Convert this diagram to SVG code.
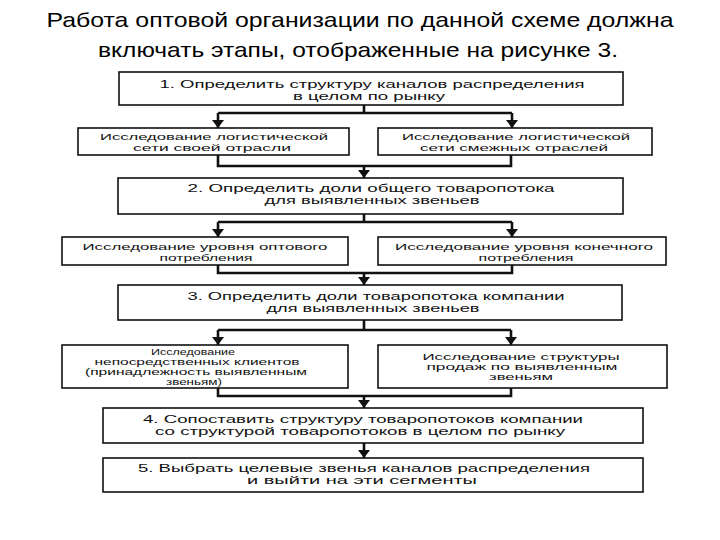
<svg xmlns="http://www.w3.org/2000/svg" width="720" height="540" viewBox="0 0 720 540">
<style>
.box{fill:#fff;stroke:#111;stroke-width:1.6}
.t{font-family:"Liberation Sans",Arial,sans-serif;font-size:10.2px;fill:#111;text-anchor:middle}
.s{font-size:9.2px}
.xs{font-size:8.6px}
.title{font-family:"Liberation Sans",Arial,sans-serif;font-size:21px;fill:#000;text-anchor:middle}
.c{fill:none;stroke:#111;stroke-width:2.6}
</style>
<defs>
<marker id="ah" viewBox="0 0 8 12" refX="8" refY="6" markerWidth="8" markerHeight="12" markerUnits="userSpaceOnUse" orient="auto">
<path d="M0,0 L8,6 L0,12 z" fill="#111"/>
</marker>
</defs>
<rect width="720" height="540" fill="#fff"/>
<g id="title">
<text class="title" x="360" y="27" textLength="627" lengthAdjust="spacingAndGlyphs">Работа оптовой организации по данной схеме должна</text>
<text class="title" x="358" y="57" textLength="520" lengthAdjust="spacingAndGlyphs">включать этапы, отображенные на рисунке 3.</text>
</g>
<g id="connectors">
<path class="c" d="M364,105 V113 M218,113 H512"/>
<path class="c" d="M218,113 V128" marker-end="url(#ah)"/>
<path class="c" d="M512,113 V128" marker-end="url(#ah)"/>
<path class="c" d="M218,155 V166 H511 V155"/>
<path class="c" d="M364,166 V178" marker-end="url(#ah)"/>
<path class="c" d="M364,214 V222 M218,222 H512"/>
<path class="c" d="M218,222 V237" marker-end="url(#ah)"/>
<path class="c" d="M512,222 V237" marker-end="url(#ah)"/>
<path class="c" d="M218,265 V273 H512 V265"/>
<path class="c" d="M364,273 V285" marker-end="url(#ah)"/>
<path class="c" d="M364,320 V330 M218,330 H511"/>
<path class="c" d="M218,330 V345" marker-end="url(#ah)"/>
<path class="c" d="M511,330 V345" marker-end="url(#ah)"/>
<path class="c" d="M218,388 V396 H511 V388"/>
<path class="c" d="M364,396 V408" marker-end="url(#ah)"/>
<path class="c" d="M364,443 V458" marker-end="url(#ah)"/>
</g>
<g id="n1">
<rect class="box" x="119" y="72" width="504" height="33"/>
<text class="t" x="372" y="88" textLength="425" lengthAdjust="spacingAndGlyphs">1. Определить структуру каналов распределения</text>
<text class="t" x="369" y="100" textLength="152" lengthAdjust="spacingAndGlyphs">в целом по рынку</text>
</g>
<g id="n1a">
<rect class="box" x="78" y="128" width="271" height="27"/>
<text class="t s" x="214" y="140" textLength="228" lengthAdjust="spacingAndGlyphs">Исследование логистической</text>
<text class="t s" x="212" y="151" textLength="158" lengthAdjust="spacingAndGlyphs">сети своей отрасли</text>
</g>
<g id="n1b">
<rect class="box" x="378" y="128" width="274" height="27"/>
<text class="t s" x="516" y="140" textLength="228" lengthAdjust="spacingAndGlyphs">Исследование логистической</text>
<text class="t s" x="514" y="151" textLength="188" lengthAdjust="spacingAndGlyphs">сети смежных отраслей</text>
</g>
<g id="n2">
<rect class="box" x="118" y="178" width="505" height="36"/>
<text class="t" x="371" y="192" textLength="367" lengthAdjust="spacingAndGlyphs">2. Определить доли общего товаропотока</text>
<text class="t" x="372" y="204" textLength="215" lengthAdjust="spacingAndGlyphs">для выявленных звеньев</text>
</g>
<g id="n2a">
<rect class="box" x="62" y="237" width="286" height="28"/>
<text class="t s" x="205" y="250" textLength="245" lengthAdjust="spacingAndGlyphs">Исследование уровня оптового</text>
<text class="t s" x="206" y="261" textLength="93" lengthAdjust="spacingAndGlyphs">потребления</text>
</g>
<g id="n2b">
<rect class="box" x="378" y="237" width="288" height="28"/>
<text class="t s" x="524" y="250" textLength="258" lengthAdjust="spacingAndGlyphs">Исследование уровня конечного</text>
<text class="t s" x="526" y="261" textLength="95" lengthAdjust="spacingAndGlyphs">потребления</text>
</g>
<g id="n3">
<rect class="box" x="118" y="285" width="504" height="35"/>
<text class="t" x="376" y="300" textLength="377" lengthAdjust="spacingAndGlyphs">3. Определить доли товаропотока компании</text>
<text class="t" x="373" y="312" textLength="213" lengthAdjust="spacingAndGlyphs">для выявленных звеньев</text>
</g>
<g id="n3a">
<rect class="box" x="62" y="345" width="286" height="43"/>
<text class="t xs" x="193" y="355" textLength="84" lengthAdjust="spacingAndGlyphs">Исследование</text>
<text class="t xs" x="197" y="365" textLength="205" lengthAdjust="spacingAndGlyphs">непосредственных клиентов</text>
<text class="t xs" x="196" y="375" textLength="222" lengthAdjust="spacingAndGlyphs">(принадлежность выявленным</text>
<text class="t xs" x="194" y="385" textLength="56" lengthAdjust="spacingAndGlyphs">звеньям)</text>
</g>
<g id="n3b">
<rect class="box" x="378" y="345" width="289" height="43"/>
<text class="t xs" x="521" y="360" textLength="197" lengthAdjust="spacingAndGlyphs">Исследование структуры</text>
<text class="t xs" x="522" y="370" textLength="191" lengthAdjust="spacingAndGlyphs">продаж по выявленным</text>
<text class="t xs" x="521" y="380" textLength="64" lengthAdjust="spacingAndGlyphs">звеньям</text>
</g>
<g id="n4">
<rect class="box" x="103" y="408" width="540" height="35"/>
<text class="t" x="363" y="423" textLength="440" lengthAdjust="spacingAndGlyphs">4. Сопоставить структуру товаропотоков компании</text>
<text class="t" x="360" y="435" textLength="410" lengthAdjust="spacingAndGlyphs">со структурой товаропотоков в целом по рынку</text>
</g>
<g id="n5">
<rect class="box" x="103" y="458" width="540" height="34"/>
<text class="t" x="364" y="472" textLength="452" lengthAdjust="spacingAndGlyphs">5. Выбрать целевые звенья каналов распределения</text>
<text class="t" x="362" y="484" textLength="230" lengthAdjust="spacingAndGlyphs">и выйти на эти сегменты</text>
</g>
</svg>
